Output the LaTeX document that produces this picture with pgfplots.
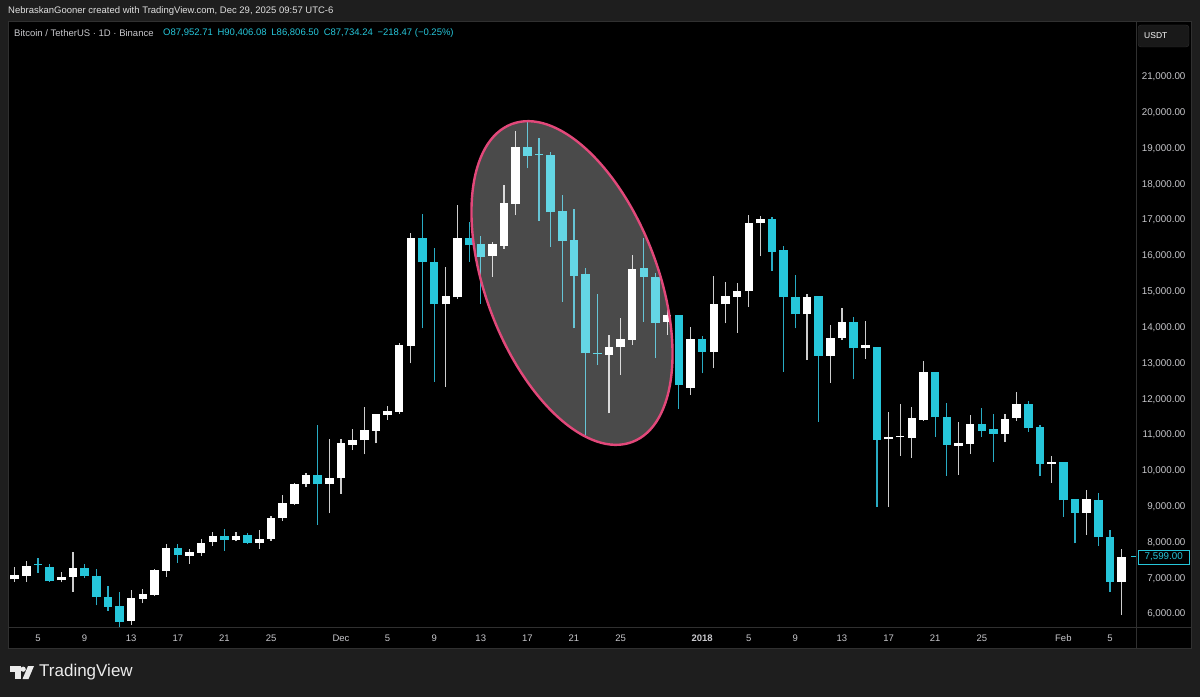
\documentclass[border=0pt]{standalone}
\usepackage{fontspec}
\setmainfont{Liberation Sans}
\usepackage{pgfplots}
\usepackage{pgfplotstable}
\pgfplotsset{compat=1.18}

\definecolor{framebg}{RGB}{30,30,30}
\definecolor{sepline}{RGB}{48,48,48}
\definecolor{ticktxt}{RGB}{200,200,204}
\definecolor{candleup}{RGB}{255,255,255}
\definecolor{wickup}{RGB}{205,205,205}
\definecolor{candledn}{RGB}{38,198,218}
\definecolor{wickdn}{RGB}{40,172,196}
\definecolor{ringpink}{RGB}{226,72,122}

% i = day index (0 = 3 Nov 2017), o h l c
\pgfplotstableread{
i o h l c
0 6966 7314 6895 7091
1 7071 7482 6895 7342
4 6945 7185 6887 7046
5 7035 7733 6625 7286
10 5815 6672 5695 6440
11 6430 6691 6300 6551
12 6541 7270 6500 7222
13 7203 7950 7046 7855
15 7630 7809 7408 7733
16 7715 8090 7630 7995
17 8023 8300 7910 8180
19 8060 8300 8030 8190
21 7985 8350 7817 8107
22 8097 8750 8050 8675
23 8675 9325 8600 9094
24 9085 9650 9050 9625
25 9625 9930 9540 9875
27 9633 10880 8815 9810
28 9792 10880 9353 10770
29 10720 11170 10580 10860
30 10860 11790 10460 11140
31 11120 11600 10770 11585
32 11550 11810 11420 11680
33 11650 13560 11600 13505
34 13487 16635 13000 16495
37 14650 15700 12350 14890
38 14845 17430 14800 16515
41 16010 16400 15420 16328
42 16290 17985 16200 17470
43 17450 19500 17145 19055
51 13235 13795 11607 13470
52 13450 14260 12677 13675
53 13655 16030 13515 15640
56 14165 14770 13795 14350
58 12310 14025 12120 13680
60 13330 15440 12860 14650
61 14650 15285 14120 14885
62 14865 15255 13860 15025
63 15010 17145 14580 16915
64 16915 17120 15990 17025
68 14370 14940 13095 14865
70 13215 14075 12460 13700
71 13700 14540 13650 14165
73 13440 14195 13120 13515
75 10880 11655 9000 10955
76 10940 11866 10415 10970
77 10910 11780 10355 11470
78 11430 13080 11400 12770
81 10705 11375 9885 10770
82 10750 11555 10470 11310
85 11030 11600 10800 11460
86 11475 12215 11400 11865
89 10190 10415 9670 10245
92 8830 9465 8210 9205
95 6890 7830 5975 7599
}\upday

\pgfplotstableread{
i o h l c
2 7400 7557 7147 7370
3 7306 7398 6895 6915
6 7286 7398 7000 7054
7 7063 7268 6244 6477
8 6485 6784 6094 6206
9 6215 6617 5650 5778
14 7837 7950 7436 7660
18 8180 8385 7770 8080
20 8200 8250 7950 7985
26 9875 11280 8488 9625
35 16515 17175 13980 15825
36 15840 16215 12490 14650
39 16515 16960 15840 16300
40 16328 16545 14660 15985
44 19055 19780 18450 18795
45 18860 19290 16990 18830
46 18820 18915 16260 17220
47 17260 17705 14725 16430
48 16450 17305 13980 15450
49 15500 15660 10910 13283
50 13300 14940 12955 13260
54 15660 16495 14170 15425
55 15425 15520 13145 14140
57 14350 14350 11720 12400
59 13680 13775 12725 13330
65 17025 17085 15585 16105
66 16170 16280 12770 14845
67 14865 15470 13980 14370
69 14890 14890 11375 13215
72 14165 14305 12555 13420
74 13470 13470 9000 10865
79 12770 12770 10955 11495
80 11495 11905 9860 10725
83 11310 11765 10940 11120
84 11160 11600 10250 11030
87 11865 11960 11095 11195
88 11225 11280 9860 10190
90 10255 10255 8720 9185
91 9205 9205 7975 8830
93 9185 9370 7910 8140
94 8160 8350 6625 6890
}\downday

\begin{document}
\begin{tikzpicture}
% frame and panes
\fill[framebg] (0,0) rectangle (1200pt,697pt);
\fill[black] (8pt,49pt) rectangle (1191pt,675pt);

\begin{axis}[
  at={(8pt,70pt)}, anchor=south west,
  scale only axis,
  width=1128pt, height=605pt,
  xmin=-0.575, xmax=96.23,
  ymin=5638, ymax=22536,
  scaled x ticks=false, scaled y ticks=false,
  axis line style={draw=none},
  major tick length=0pt,
  xtick={2,6,10,14,18,22,28,32,36,40,44,48,52,59,63,67,71,75,79,83,90,94},
  xticklabels={5,9,13,17,21,25,Dec,5,9,13,17,21,25,\textbf{2018},5,9,13,17,21,25,Feb,5},
  xticklabel style={anchor=center, yshift=-11pt, font=\fontsize{9.5}{11}\selectfont},
  ytick={6000,7000,...,21000},
  yticklabels={{6,000.00},{7,000.00},{8,000.00},{9,000.00},{10,000.00},{11,000.00},{12,000.00},{13,000.00},{14,000.00},{15,000.00},{16,000.00},{17,000.00},{18,000.00},{19,000.00},{20,000.00},{21,000.00}},
  yticklabel pos=right,
  yticklabel style={anchor=east, xshift=53pt, font=\fontsize{9.8}{11}\selectfont},
  ticklabel style={text=ticktxt},
]
% wicks
\addplot[forget plot, draw=none, mark=none, error bars/.cd, y dir=plus, y explicit, error mark=none,
  error bar style={line width=1.2pt, color=wickup}]
  table[x=i, y=l, y error expr=\thisrow{h}-\thisrow{l}] {\upday};
\addplot[forget plot, draw=none, mark=none, error bars/.cd, y dir=plus, y explicit, error mark=none,
  error bar style={line width=1.2pt, color=wickdn}]
  table[x=i, y=l, y error expr=\thisrow{h}-\thisrow{l}] {\downday};
% bodies
\addplot[forget plot, draw=none, mark=none, error bars/.cd, y dir=plus, y explicit, error mark=none,
  error bar style={line width=8.5pt, color=candleup}]
  table[x=i, y=o, y error expr=\thisrow{c}-\thisrow{o}] {\upday};
\addplot[forget plot, draw=none, mark=none, error bars/.cd, y dir=plus, y explicit, error mark=none,
  error bar style={line width=8.5pt, color=candledn}]
  table[x=i, y=c, y error expr=\thisrow{o}-\thisrow{c}] {\downday};

\coordinate (ring) at (axis cs:47.83,15246);
\coordinate (last) at (axis cs:95,7599);
\end{axis}

% highlighted pullback
\draw[shift={(ring)}, rotate=-69.2, fill=white, fill opacity=0.29, draw=ringpink, line width=2.4pt]
  (0,0) ellipse [x radius=170pt, y radius=86pt];

% separators and border
\draw[sepline, line width=1pt] (8pt,70pt) -- (1191pt,70pt);
\draw[sepline, line width=1pt] (1136pt,49pt) -- (1136pt,675pt);
\draw[sepline, line width=1pt] (8pt,49pt) rectangle (1191pt,675pt);

% last price marker
\draw[candledn, line width=1.2pt] (1131pt,0 |- last) -- (1136pt,0 |- last);
\node[draw=candledn, fill=black, text=candledn, anchor=west, inner sep=0pt,
  minimum width=51pt, minimum height=14pt, font=\fontsize{9.8}{11}\selectfont]
  at (1138pt,0 |- last) {7,599.00};

% currency button
\draw[rounded corners=3pt, draw=sepline, fill=black!90!white] (1138pt,650pt) rectangle (1189pt,672pt);
\node[anchor=west, inner sep=0pt, text=white, font=\fontsize{8.5}{10}\selectfont] at (1144pt,661pt) {USDT};

% header texts
\node[anchor=west, inner sep=0pt, text=white!88!black, font=\fontsize{9.5}{11}\selectfont]
  at (8pt,686pt) {NebraskanGooner created with TradingView.com, Dec 29, 2025 09:57 UTC-6};
\node[anchor=west, inner sep=0pt, text=ticktxt, font=\fontsize{9.5}{11}\selectfont]
  at (14pt,664pt) {Bitcoin / TetherUS · 1D · Binance};
\node[anchor=west, inner sep=0pt, text=candledn, font=\fontsize{9.5}{11}\selectfont]
  at (163pt,664pt) {O87,952.71\enspace H90,406.08\enspace L86,806.50\enspace C87,734.24\enspace −218.47 (−0.25\%)};

% TradingView logo
\fill[white!92!black] (9.5pt,31pt) rectangle (20.5pt,25.5pt);
\fill[white!92!black] (15pt,31pt) rectangle (20.5pt,18pt);
\fill[white!92!black] (23.2pt,27.8pt) circle (2.6pt);
\fill[white!92!black] (28pt,31pt) -- (34pt,31pt) -- (28.5pt,18pt) -- (22.5pt,18pt) -- cycle;
\node[anchor=west, inner sep=0pt, text=white!92!black, font=\fontsize{17}{20}\selectfont]
  at (39pt,24.5pt) {TradingView};

\pgfresetboundingbox
\useasboundingbox (0,0) rectangle (1200pt,697pt);
\end{tikzpicture}
\end{document}
